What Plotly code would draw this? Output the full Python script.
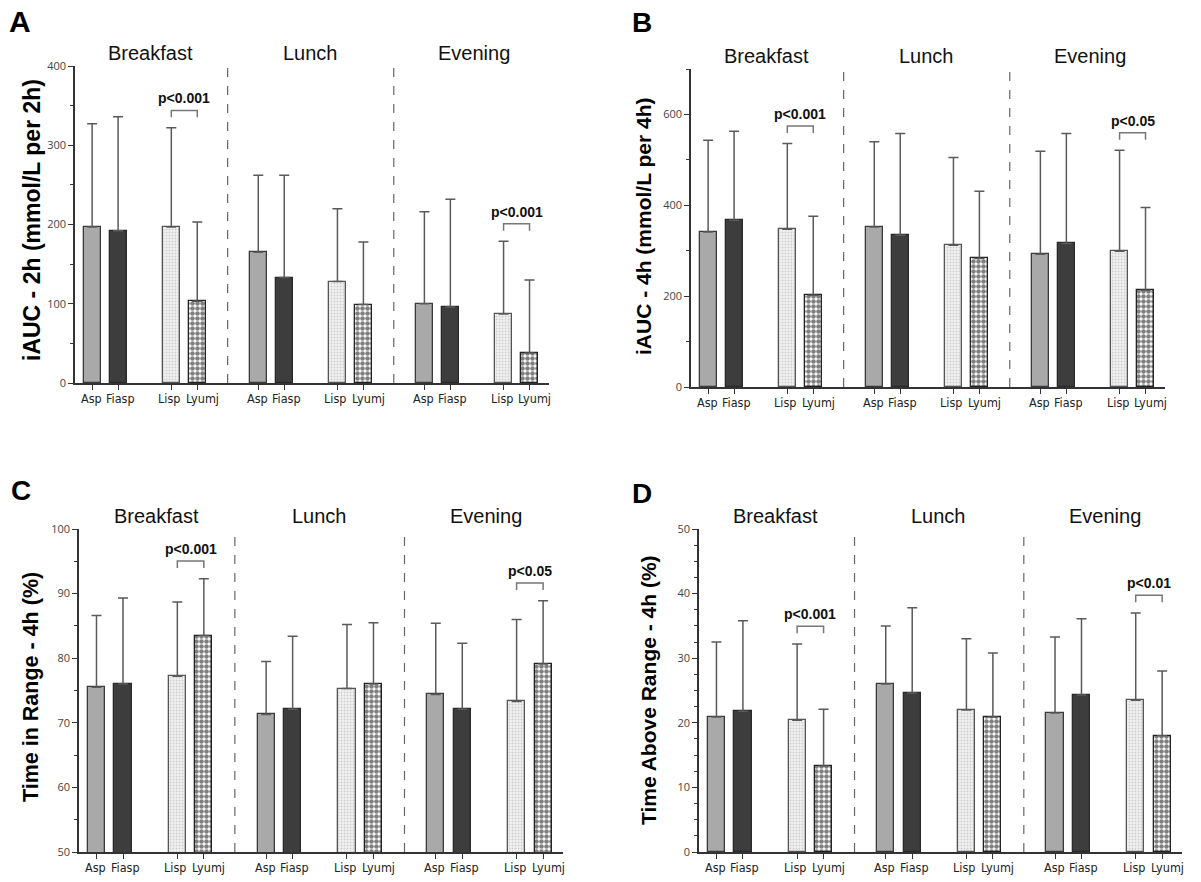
import plotly.graph_objects as go

# ---------------- data ----------------
meals = ["Breakfast", "Lunch", "Evening"]
insulins = ["Asp", "Fiasp", "Lisp", "Lyumj"]

# Panel A: iAUC 0-2h (mmol/L per 2h), mean and SD per meal
A_asp = [197, 165, 100]
A_asp_sd = [130, 97, 116]
A_fiasp = [192, 133, 96]
A_fiasp_sd = [144, 129, 136]
A_lisp = [197, 128, 87]
A_lisp_sd = [125, 92, 92]
A_lyumj = [103, 99, 38]
A_lyumj_sd = [100, 79, 92]

# Panel B: iAUC 0-4h (mmol/L per 4h)
B_asp = [341, 352, 292]
B_asp_sd = [202, 188, 227]
B_fiasp = [367, 334, 316]
B_fiasp_sd = [196, 224, 242]
B_lisp = [347, 312, 299]
B_lisp_sd = [189, 193, 222]
B_lyumj = [202, 283, 213]
B_lyumj_sd = [174, 148, 182]

# Panel C: Time in range 0-4h (%)
C_asp = [75.5, 71.3, 74.4]
C_asp_sd = [11.1, 8.2, 11.0]
C_fiasp = [76.0, 72.1, 72.1]
C_fiasp_sd = [13.3, 11.3, 10.2]
C_lisp = [77.2, 75.3, 73.3]
C_lisp_sd = [11.5, 9.9, 12.7]
C_lyumj = [83.5, 76.0, 79.1]
C_lyumj_sd = [8.8, 9.5, 9.8]

# Panel D: Time above range 0-4h (%)
D_asp = [20.9, 26.0, 21.5]
D_asp_sd = [11.6, 9.0, 11.8]
D_fiasp = [21.8, 24.6, 24.3]
D_fiasp_sd = [14.0, 13.2, 11.8]
D_lisp = [20.4, 22.0, 23.5]
D_lisp_sd = [11.8, 11.0, 13.5]
D_lyumj = [13.3, 20.9, 18.0]
D_lyumj_sd = [8.8, 9.9, 10.0]

# significance (meal index, label) for Lisp vs Lyumj
A_sig = [(0, "p<0.001"), (2, "p<0.001")]
B_sig = [(0, "p<0.001"), (2, "p<0.05")]
C_sig = [(0, "p<0.001"), (2, "p<0.05")]
D_sig = [(0, "p<0.001"), (2, "p<0.01")]

A_title = "iAUC - 2h (mmol/L per 2h)"
B_title = "iAUC - 4h (mmol/L per 4h)"
C_title = "Time in Range - 4h (%)"
D_title = "Time Above Range - 4h (%)"

# ---------------- layout / style ----------------
W, H = 1201, 882
GROUP_STEP = 6.4
OFFSETS = [0, 1, 3.05, 4.05]
LABEL_SHIFT = [-1, 2, -2, 5]
BAR_W = 0.65
XRANGE = [-0.66, 17.6]
DASH_X = [5.22, 11.62]
SUB_X = [2.25, 8.4, 14.7]
NARROW = "Liberation Sans Narrow, DejaVu Sans Condensed, Arial Narrow, sans-serif"

styles = {
    "Asp": dict(color="#a9a9a9", line=dict(color="#3a3a3a", width=1.3)),
    "Fiasp": dict(color="#3d3d3d", line=dict(color="#2a2a2a", width=1.3)),
    "Lisp": dict(color="#eeeeee",
                 pattern=dict(shape=".", fgcolor="#a8a8a8", bgcolor="#f2f2f2",
                              size=3, solidity=0.3),
                 line=dict(color="#555555", width=1.3)),
    "Lyumj": dict(color="#ffffff",
                  pattern=dict(shape=".", fgcolor="#000000", bgcolor="#ffffff",
                               size=5, solidity=0.65),
                  line=dict(color="#222222", width=1.3)),
}

panels = [
    dict(key="A", means=[A_asp, A_fiasp, A_lisp, A_lyumj],
         sds=[A_asp_sd, A_fiasp_sd, A_lisp_sd, A_lyumj_sd], sig=A_sig,
         title=A_title, px=(75, 549), py=(66, 383), yr=[0, 400], dtick=100,
         mdtick=50, letter=(20, 21, 30), ytitle=(32, 220, 23)),
    dict(key="B", means=[B_asp, B_fiasp, B_lisp, B_lyumj],
         sds=[B_asp_sd, B_fiasp_sd, B_lisp_sd, B_lyumj_sd], sig=B_sig,
         title=B_title, px=(691, 1165), py=(69, 387), yr=[0, 700], dtick=200,
         mdtick=100, letter=(642, 23, 28), ytitle=(643, 227, 21)),
    dict(key="C", means=[C_asp, C_fiasp, C_lisp, C_lyumj],
         sds=[C_asp_sd, C_fiasp_sd, C_lisp_sd, C_lyumj_sd], sig=C_sig,
         title=C_title, px=(79, 563), py=(529, 852), yr=[50, 100], dtick=10,
         mdtick=5, letter=(21, 490, 28), ytitle=(31, 687, 21.5)),
    dict(key="D", means=[D_asp, D_fiasp, D_lisp, D_lyumj],
         sds=[D_asp_sd, D_fiasp_sd, D_lisp_sd, D_lyumj_sd], sig=D_sig,
         title=D_title, px=(699, 1182), py=(529, 852), yr=[0, 50], dtick=10,
         mdtick=2.5, letter=(642, 493, 28), ytitle=(648, 690, 21)),
]

fig = go.Figure()
annotations = []
shapes = []

tickvals = []
for g in range(len(meals)):
    for i, name in enumerate(insulins):
        tickvals.append(g * GROUP_STEP + OFFSETS[i])

for k, p in enumerate(panels):
    n = "" if k == 0 else str(k + 1)
    xa, ya = "x" + n, "y" + n
    for i, name in enumerate(insulins):
        xs = [g * GROUP_STEP + OFFSETS[i] for g in range(len(meals))]
        fig.add_trace(go.Bar(
            x=xs, y=p["means"][i], width=BAR_W, name=name, xaxis=xa, yaxis=ya,
            marker=styles[name], showlegend=False,
            error_y=dict(type="data", symmetric=False, array=p["sds"][i],
                         arrayminus=[0] * len(meals), color="#5a5a5a",
                         thickness=1.5, width=5),
        ))
        # category labels under the bars
        for xv in xs:
            annotations.append(dict(text=name, x=xv, y=0, xref=xa,
                                    yref=ya + " domain", yanchor="top",
                                    xanchor="center", showarrow=False,
                                    yshift=-6, xshift=LABEL_SHIFT[i],
                                    font=dict(family=NARROW, size=12.5,
                                              color="#222")))
    x0, x1 = p["px"]
    y0, y1 = p["py"]
    fig.layout["xaxis" + n] = dict(
        domain=[x0 / W, x1 / W], range=XRANGE, anchor=ya,
        tickvals=tickvals, showticklabels=False, ticks="outside", ticklen=5,
        tickwidth=1.3, tickcolor="#333", showline=True, linecolor="#333",
        linewidth=1.5, showgrid=False, zeroline=False, fixedrange=True,
        automargin=False)
    fig.layout["yaxis" + n] = dict(
        domain=[1 - y1 / H, 1 - y0 / H], range=p["yr"], anchor=xa,
        dtick=p["dtick"], tick0=0, ticks="outside", ticklen=5, tickwidth=1.3,
        tickcolor="#333", showline=True, linecolor="#333", linewidth=1.5,
        showgrid=False, zeroline=False, fixedrange=True, automargin=False,
        minor=dict(dtick=p["mdtick"], ticks="outside", ticklen=3,
                   tickwidth=1.1, tickcolor="#333", showgrid=False),
        tickfont=dict(family="Open Sans", size=11, color="#444"))
    # dashed separators
    for dx in DASH_X:
        shapes.append(dict(type="line", xref=xa, yref=ya + " domain",
                           x0=dx, x1=dx, y0=0, y1=1,
                           line=dict(color="#666", width=1.2, dash="dash")))
    # meal subtitles
    for g, meal in enumerate(meals):
        annotations.append(dict(text=meal, x=SUB_X[g], y=1, xref=xa,
                                yref=ya + " domain", yanchor="bottom",
                                showarrow=False, yshift=0,
                                font=dict(family="Liberation Sans", size=20,
                                          color="#111")))
    # significance brackets
    span = p["yr"][1] - p["yr"][0]
    for g, label in p["sig"]:
        top = max(p["means"][2][g] + p["sds"][2][g],
                  p["means"][3][g] + p["sds"][3][g])
        by = top + 0.055 * span
        drop = 0.022 * span
        bx1 = g * GROUP_STEP + OFFSETS[2]
        bx2 = g * GROUP_STEP + OFFSETS[3]
        shapes.append(dict(type="path", xref=xa, yref=ya,
                           path=f"M {bx1},{by - drop} L {bx1},{by} L {bx2},{by} L {bx2},{by - drop}",
                           line=dict(color="#777", width=1.5)))
        annotations.append(dict(text="<b>" + label + "</b>", x=(bx1 + bx2) / 2,
                                y=by, xref=xa, yref=ya, yanchor="bottom",
                                showarrow=False, yshift=2,
                                font=dict(family="Liberation Sans", size=14,
                                          color="#111")))
    # panel letter
    lx, ly, ls = p["letter"]
    annotations.append(dict(text="<b>" + p["key"] + "</b>", x=lx / W,
                            y=1 - ly / H, xref="paper", yref="paper",
                            xanchor="center", yanchor="middle", showarrow=False,
                            font=dict(family="Liberation Sans", size=ls,
                                      color="#000")))
    # y-axis title
    tx, ty, ts = p["ytitle"]
    annotations.append(dict(text="<b>" + p["title"] + "</b>", x=tx / W,
                            y=1 - ty / H, xref="paper", yref="paper",
                            xanchor="center", yanchor="middle", textangle=-90,
                            showarrow=False,
                            font=dict(family="Liberation Sans", size=ts,
                                      color="#000")))

fig.update_layout(
    width=W, height=H, margin=dict(l=0, r=0, t=0, b=0),
    paper_bgcolor="white", plot_bgcolor="white", bargap=0,
    barmode="overlay", annotations=annotations, shapes=shapes,
)

fig.write_html(
    "out.html",
    config={"displayModeBar": False},
    post_script="document.body.style.margin='0';document.body.style.padding='0';"
                "document.body.style.overflow='hidden';",
)
